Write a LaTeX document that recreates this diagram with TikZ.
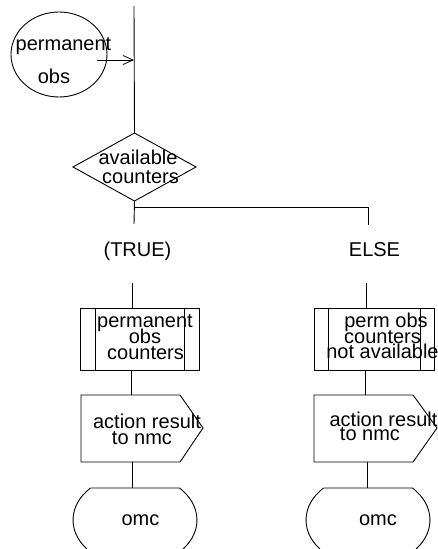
\documentclass[tikz,border=0pt]{standalone}
\usepackage{fontspec}
\setmainfont{Liberation Sans}
\usetikzlibrary{arrows.meta,shapes.geometric}
\newcommand{\lblfont}{\fontsize{20}{20}\selectfont}
\begin{document}
\begin{tikzpicture}[x=1pt,y=-1pt,
  line width=0.9pt,
  lbl/.style={anchor=base,inner sep=0pt,font=\lblfont},
  shp/.style={draw,inner sep=0pt,outer sep=0pt},
  barb/.style={-{Straight Barb[length=10pt,width=9pt,line width=0.8pt]}}]
\useasboundingbox (0,0) rectangle (438,549);

% ---------- input ellipse and main flow line ----------
\node[shp,ellipse,minimum width=96,minimum height=85] (src) at (59,54.5) {};
\node[lbl] (srcA) at (63.5,50) {permanent};
\node[lbl] (srcB) at (54,83) {obs};
\coordinate (top) at (134,6);
\coordinate (arrS) at (97,60);
\coordinate (arrE) at (134,60);

% ---------- decision ----------
\node[shp,diamond,minimum width=123,minimum height=68] (dec) at (134.5,167) {};
\node[lbl] (decA) at (138,164) {available};
\node[lbl] (decB) at (140.5,183) {counters};
\draw (top) -- (dec.north);
\draw[barb] (arrS) -- (arrE);

% ---------- branches ----------
\coordinate (lEnd) at (134,224);
\coordinate (fork) at (134,207);
\coordinate (rTop) at (368,207);
\coordinate (rEnd) at (368,225);
\draw (dec.south) -- (lEnd);
\draw (fork) -- (rTop) -- (rEnd);
\node[lbl] (tru) at (137.5,256) {(TRUE)};
\node[lbl] (els) at (374.5,256) {ELSE};

% ---------- left branch ----------
\coordinate (lS) at (132,283);
\node[shp,rectangle,minimum width=119,minimum height=62] (boxL) at (139.5,339) {};
\draw ([xshift=15]boxL.north west) -- ([xshift=15]boxL.south west);
\draw ([xshift=-15]boxL.north east) -- ([xshift=-15]boxL.south east);
\node[lbl] (bLA) at (145,327) {permanent};
\node[lbl] (bLB) at (145,343) {obs};
\node[lbl] (bLC) at (145.5,359) {counters};
\draw (lS) -- (lS |- boxL.north);

\coordinate (sL1) at (81,395);
\coordinate (sL2) at (180,395);
\coordinate (sL3) at (203,428);
\coordinate (sL4) at (180,462);
\coordinate (sL5) at (81,462);
\draw (sL1) -- (sL2) -- (sL3) -- (sL4) -- (sL5) -- cycle;
\node[lbl] (sLA) at (147,428) {action result};
\node[lbl] (sLB) at (142,444) {to nmc};
\draw (131,0 |- boxL.south) -- (131,0 |- sL1);

\coordinate (oL) at (135,520);
\coordinate (oLa) at (90.5,488);
\coordinate (oLb) at (179.5,488);
\draw (oLa) -- (oLb) arc[start angle=-44.1,end angle=39.1,x radius=62,y radius=46];
\draw (oLa) arc[start angle=-135.9,end angle=-219.1,x radius=62,y radius=46];
\node[lbl] (oLt) at (140.5,525) {omc};
\draw (132,0 |- sL4) -- (132,0 |- oLa);

% ---------- right branch ----------
\coordinate (rS) at (366,283);
\node[shp,rectangle,minimum width=120,minimum height=62] (boxR) at (374,339) {};
\draw ([xshift=14]boxR.north west) -- ([xshift=14]boxR.south west);
\draw ([xshift=-14]boxR.north east) -- ([xshift=-14]boxR.south east);
\node[lbl] (bRA) at (386,327) {perm obs};
\node[lbl] (bRB) at (382.5,343) {counters};
\node[lbl] (bRC) at (382.5,358) {not available};
\draw (rS) -- (rS |- boxR.north);

\coordinate (sR1) at (314,395);
\coordinate (sR2) at (413,395);
\coordinate (sR3) at (437,428);
\coordinate (sR4) at (413,462);
\coordinate (sR5) at (314,462);
\draw (sR1) -- (sR2) -- (sR3) -- (sR4) -- (sR5) -- cycle;
\node[lbl] (sRA) at (383.5,426) {action result};
\node[lbl] (sRB) at (370,440) {to nmc};
\draw (365,0 |- boxR.south) -- (365,0 |- sR1);

\coordinate (oR) at (368,520);
\coordinate (oRa) at (323.5,488);
\coordinate (oRb) at (412.5,488);
\draw (oRa) -- (oRb) arc[start angle=-44.1,end angle=39.1,x radius=62,y radius=46];
\draw (oRa) arc[start angle=-135.9,end angle=-219.1,x radius=62,y radius=46];
\node[lbl] (oRt) at (378,525) {omc};
\draw (367,0 |- sR4) -- (367,0 |- oRa);
\end{tikzpicture}
\end{document}
